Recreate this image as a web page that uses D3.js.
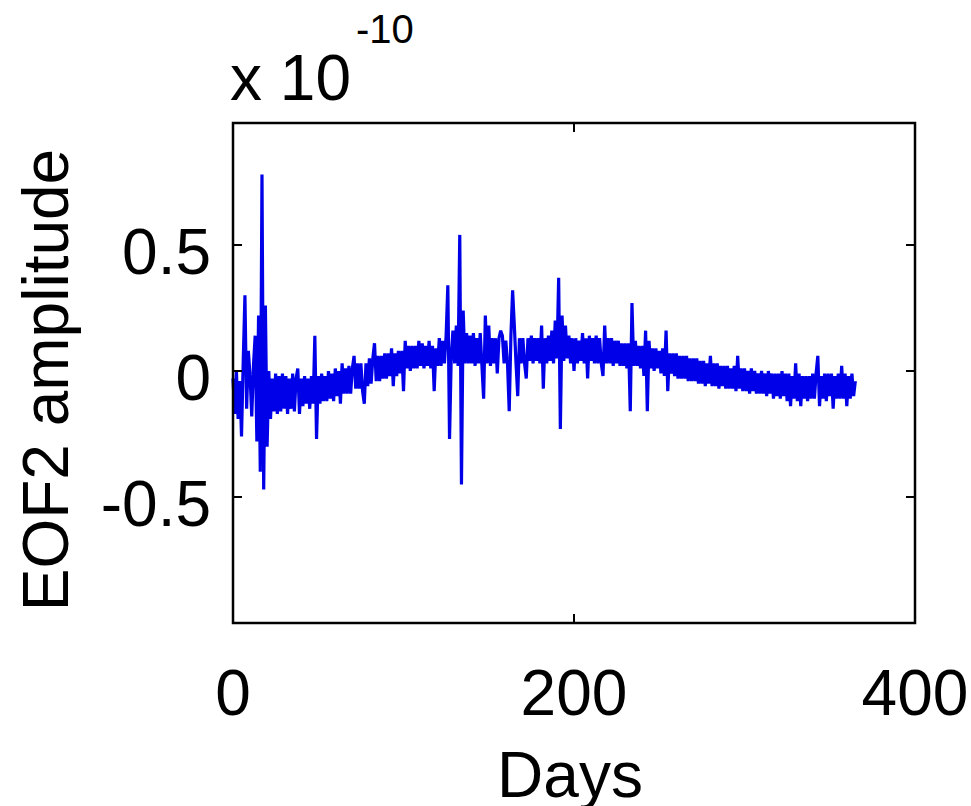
<!DOCTYPE html>
<html>
<head>
<meta charset="utf-8">
<script src="https://cdn.jsdelivr.net/npm/d3@7"></script>
<style>
  body { margin: 0; background: #fff; }
  text { font-family: "Liberation Sans", "DejaVu Sans", sans-serif; fill: #000; }
</style>
</head>
<body>
<svg id="vis-pane" width="971" height="806"></svg>
<script>

// EOF2 amplitude (units of 1e-10), one value per day
var days0to49 = [
  -0.03, -0.17, 0.00, -0.19, -0.04, -0.26, 0.04, 0.30, -0.15, 0.08,
  -0.02, -0.18, 0.02, 0.14, -0.28, 0.22, -0.40, 0.78, -0.47, 0.26,
  -0.30, 0.00, -0.19, -0.03, -0.16, -0.01, -0.17, -0.02, -0.16, -0.01,
  -0.15, -0.02, -0.17, -0.03, -0.15, -0.01, -0.16, -0.03, 0.01, -0.17,
  -0.03, -0.14, -0.02, -0.13, -0.03, -0.15, -0.02, -0.13, 0.14, -0.27];
var days50to99 = [
  -0.02, -0.13, -0.01, -0.12, -0.02, -0.12, 0.00, -0.11, -0.01, -0.12,
  0.01, -0.10, 0.00, -0.13, 0.03, -0.09, 0.01, -0.09, 0.02, -0.09,
  0.01, 0.06, -0.07, 0.03, -0.07, 0.03, -0.08, -0.13, 0.03, -0.06,
  0.05, -0.05, 0.05, 0.11, -0.04, 0.06, -0.04, 0.06, -0.03, 0.07,
  -0.03, 0.07, -0.02, 0.09, -0.06, 0.07, -0.02, 0.08, -0.01, 0.08];
var days100to149 = [
  -0.08, 0.12, 0.01, 0.10, 0.00, 0.10, 0.01, 0.10, 0.01, 0.12,
  0.02, 0.11, 0.01, 0.10, 0.02, 0.12, 0.01, 0.10, -0.08, 0.09,
  0.02, 0.13, 0.02, 0.12, 0.03, 0.14, 0.34, -0.27, 0.06, 0.16,
  0.03, 0.18, 0.02, 0.54, -0.45, 0.24, 0.03, 0.15, 0.03, 0.14,
  0.03, 0.15, 0.02, 0.13, 0.03, 0.15, 0.02, -0.11, 0.22, 0.03];
var days150to199 = [
  0.18, 0.02, 0.13, 0.03, 0.13, -0.01, 0.13, 0.16, 0.14, 0.03,
  0.12, 0.03, -0.16, 0.14, 0.32, 0.18, 0.03, -0.10, 0.13, 0.03,
  0.13, 0.03, -0.03, 0.13, 0.04, 0.14, 0.03, 0.13, 0.04, 0.13,
  0.03, 0.18, -0.07, 0.13, 0.03, 0.14, 0.04, 0.16, 0.03, 0.20,
  0.05, 0.37, -0.23, 0.22, 0.04, 0.18, 0.05, 0.14, 0.03, 0.13];
var days200to249 = [
  0.00, 0.13, 0.03, 0.12, 0.04, 0.15, 0.03, 0.13, -0.03, 0.14,
  0.04, 0.13, 0.03, 0.14, 0.03, 0.13, 0.03, -0.02, 0.18, 0.03,
  0.13, 0.03, 0.13, 0.02, 0.12, 0.03, 0.12, 0.02, 0.11, 0.02,
  0.11, 0.01, 0.11, -0.16, 0.27, 0.02, 0.12, 0.02, 0.10, 0.01,
  0.10, -0.02, 0.16, -0.16, 0.12, 0.01, 0.09, 0.00, 0.09, 0.01];
var days250to299 = [
  0.08, -0.01, 0.09, -0.02, 0.16, -0.08, 0.07, -0.01, 0.07, -0.02,
  0.07, -0.03, 0.06, -0.03, 0.06, -0.03, 0.06, -0.04, 0.05, -0.04,
  0.05, -0.04, 0.05, -0.05, 0.04, -0.05, 0.04, -0.06, 0.03, -0.05,
  0.06, -0.06, 0.03, -0.06, 0.03, -0.07, 0.02, -0.06, 0.02, -0.07,
  0.02, -0.07, 0.01, -0.07, 0.02, -0.08, 0.06, -0.07, 0.01, -0.08];
var days300to365 = [
  0.01, -0.08, 0.00, -0.09, 0.01, -0.08, 0.00, -0.09, -0.01, -0.09,
  0.00, -0.09, -0.01, -0.10, 0.00, -0.09, -0.01, -0.11, -0.01, -0.10,
  -0.01, -0.11, 0.00, -0.10, -0.01, -0.12, -0.01, -0.14, -0.02, -0.11,
  0.03, -0.12, -0.01, -0.14, -0.02, -0.11, -0.02, -0.12, -0.02, -0.11,
  -0.01, -0.11, -0.01, 0.06, -0.14, -0.02, -0.11, -0.01, -0.12, -0.01,
  -0.10, -0.01, -0.15, -0.02, -0.11, -0.01, -0.11, 0.02, -0.11, -0.01,
  -0.14, -0.02, -0.11, -0.01, -0.10, -0.04];

var xTicks = [0, 200, 400];
var yTicks = [-0.5, 0, 0.5];
var yTickLabels = ["-0.5", "0", "0.5"];
var xLabel = "Days";
var yLabel = "EOF2 amplitude";

var amplitude = [].concat(days0to49, days50to99, days100to149, days150to199,
    days200to249, days250to299, days300to365);

// plot box in pixels (named so they don't clash with window.top)
var boxL = 233, boxR = 915, boxT = 123, boxB = 623;

var x = d3.scaleLinear().domain([0, 400]).range([boxL, boxR]);
var y = d3.scaleLinear().domain([-1, 0.984]).range([boxB, boxT]);

var svg = d3.select("#vis-pane");

// the series
var line = d3.line()
    .x(function(d, i) { return x(i); })
    .y(function(d) { return y(d); });

svg.append("path")
    .datum(amplitude)
    .attr("fill", "none")
    .attr("stroke", "#0000e8")
    .attr("stroke-width", 3.2)
    .attr("stroke-linejoin", "bevel")
    .attr("d", line);

// ticks on all four sides, pointing in
var tickLen = 9;
svg.selectAll(".xt").data(xTicks.slice(1, -1)).enter().append("g")
    .each(function(d) {
        var g = d3.select(this);
        g.append("line").attr("x1", x(d)).attr("x2", x(d))
            .attr("y1", boxB).attr("y2", boxB - tickLen).attr("stroke", "#000").attr("stroke-width", 2);
        g.append("line").attr("x1", x(d)).attr("x2", x(d))
            .attr("y1", boxT).attr("y2", boxT + tickLen).attr("stroke", "#000").attr("stroke-width", 2);
    });
svg.selectAll(".yt").data(yTicks).enter().append("g")
    .each(function(d) {
        var g = d3.select(this);
        g.append("line").attr("x1", boxL).attr("x2", boxL + tickLen)
            .attr("y1", y(d)).attr("y2", y(d)).attr("stroke", "#000").attr("stroke-width", 2);
        g.append("line").attr("x1", boxR).attr("x2", boxR - tickLen)
            .attr("y1", y(d)).attr("y2", y(d)).attr("stroke", "#000").attr("stroke-width", 2);
    });

// frame
svg.append("rect")
    .attr("x", boxL).attr("y", boxT)
    .attr("width", boxR - boxL).attr("height", boxB - boxT)
    .attr("fill", "none").attr("stroke", "#000").attr("stroke-width", 2.5);

// tick labels
svg.selectAll(".xl").data(xTicks).enter().append("text")
    .attr("x", function(d) { return x(d); })
    .attr("y", 715)
    .attr("text-anchor", "middle")
    .style("font-size", "64px")
    .text(function(d) { return d; });

svg.selectAll(".yl").data(yTicks).enter().append("text")
    .attr("x", 211)
    .attr("y", function(d) { return y(d) + 29; })
    .attr("text-anchor", "end")
    .style("font-size", "64px")
    .text(function(d, i) { return yTickLabels[i]; });

// axis titles
svg.append("text")
    .attr("x", 570).attr("y", 797)
    .attr("text-anchor", "middle")
    .style("font-size", "64px")
    .text(xLabel);

svg.append("text")
    .attr("transform", "translate(68,380) rotate(-90)")
    .attr("text-anchor", "middle")
    .style("font-size", "64px")
    .text(yLabel);

// exponent label
svg.append("text").attr("x", 230).attr("y", 100).style("font-size", "64px").text("x 10");
svg.append("text").attr("x", 356).attr("y", 43).style("font-size", "40px").text("-10");

</script>
</body>
</html>
